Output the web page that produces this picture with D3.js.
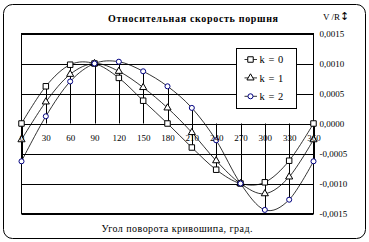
<!DOCTYPE html>
<html>
<head>
<meta charset="utf-8">
<script src="https://cdn.jsdelivr.net/npm/d3@7"></script>
<style>
  body { margin: 0; background: #fff; }
  svg { display: block; font-family: "Liberation Serif", "Times New Roman", serif; }
</style>
</head>
<body>
<svg id="chart"></svg>
<script>
// crank angle, degrees
const angles = [0, 30, 60, 90, 120, 150, 180, 210, 240, 270, 300, 330, 360];
const seriesNames = ['k = 0', 'k = 1', 'k = 2'];
const k0 = [0, 0.00062, 0.00098, 0.001, 0.00076, 0.00038, 0, -0.0004, -0.00077, -0.001, -0.00098, -0.00062, 0];
const k1 = [-0.00027, 0.00036, 0.00082, 0.001, 0.00087, 0.0006, 0.00026, -0.00015, -0.00062, -0.001, -0.00117, -0.00089, -0.00027];
const k2 = [-0.00063, 0.00012, 0.0007, 0.001, 0.00103, 0.00087, 0.00062, 0.00026, -0.00028, -0.001, -0.00144, -0.00127, -0.00063];
const yTicks = [-0.0015, -0.001, -0.0005, 0, 0.0005, 0.001, 0.0015];

const width = 369, height = 242;
const svg = d3.select('#chart').attr('width', width).attr('height', height);

const x = d3.scaleLinear().domain([0, 360]).range([21.5, 313.5]);
const y = d3.scaleLinear().domain([-0.0015, 0.0015]).range([213.5, 33.5]);

// outer frame
svg.append('rect')
  .attr('x', 3.5).attr('y', 4.5).attr('width', 362).attr('height', 234)
  .attr('rx', 9).attr('fill', '#fff').attr('stroke', '#000');

// horizontal gridlines
svg.append('g')
  .selectAll('line')
  .data(yTicks)
  .join('line')
  .attr('x1', x(0)).attr('x2', x(360))
  .attr('y1', d => Math.round(y(d)) + 0.5).attr('y2', d => Math.round(y(d)) + 0.5)
  .attr('stroke', '#000');

// plot border
svg.append('rect')
  .attr('x', x(0)).attr('y', y(0.0015))
  .attr('width', x(360) - x(0)).attr('height', y(-0.0015) - y(0.0015))
  .attr('fill', 'none').attr('stroke', '#000');

// drop lines
const series = [k0, k1, k2];
svg.append('g')
  .selectAll('line')
  .data(angles.map((a, i) => ({
    a,
    lo: Math.min(0, ...series.map(s => s[i])),
    hi: Math.max(0, ...series.map(s => s[i]))
  })))
  .join('line')
  .attr('x1', d => Math.round(x(d.a)) + 0.5).attr('x2', d => Math.round(x(d.a)) + 0.5)
  .attr('y1', d => y(d.lo)).attr('y2', d => y(d.hi))
  .attr('stroke', '#000');

// right value axis
const yAxis = svg.append('g')
  .attr('transform', `translate(${x(360)},0)`)
  .call(d3.axisRight(y).tickValues(yTicks).tickSize(0).tickPadding(6)
    .tickFormat(d => d3.format('.4f')(d).replace('−', '-').replace('.', ',')));
yAxis.select('.domain').remove();
yAxis.selectAll('text').attr('font-size', 9).attr('font-family', 'Liberation Serif').attr('fill', '#000');

// series lines
const line = d3.line()
  .x((d, i) => x(angles[i]))
  .y(d => y(d))
  .curve(d3.curveCardinal.tension(0));

svg.append('g')
  .selectAll('path')
  .data(series)
  .join('path')
  .attr('d', line)
  .attr('fill', 'none')
  .attr('stroke', '#000')
  .attr('stroke-width', 0.8);

const markers = [
  { type: d3.symbolSquare, size: 30, stroke: '#000' },
  { type: d3.symbolTriangle, size: 22, stroke: '#000' },
  { type: d3.symbolCircle, size: 20, stroke: '#000080' }
];

series.forEach((s, si) => {
  svg.append('g')
    .selectAll('path')
    .data(s)
    .join('path')
    .attr('transform', (d, i) => `translate(${x(angles[i])},${y(d)})`)
    .attr('d', d3.symbol().type(markers[si].type).size(markers[si].size))
    .attr('fill', '#fff')
    .attr('stroke', markers[si].stroke);
});

// category labels next to zero line, drawn over the markers
const xAxis = svg.append('g')
  .attr('transform', `translate(0,${y(0)})`)
  .call(d3.axisBottom(x).tickValues(angles).tickSize(0).tickPadding(11).tickFormat(d3.format('d')));
xAxis.select('.domain').remove();
xAxis.selectAll('text').attr('font-size', 9).attr('font-family', 'Liberation Serif').attr('fill', '#000');

// legend
const legend = svg.append('g').attr('transform', 'translate(236.5,48.5)');
legend.append('rect')
  .attr('width', 60).attr('height', 60)
  .attr('fill', '#fff').attr('stroke', '#000');

const item = legend.selectAll('g')
  .data(seriesNames)
  .join('g')
  .attr('transform', (d, i) => `translate(0,${11 + i * 18.4})`);

item.append('line')
  .attr('x1', 8).attr('x2', 20.5)
  .attr('stroke', '#000').attr('stroke-width', 0.8);

item.append('path')
  .attr('transform', 'translate(14,0)')
  .attr('d', (d, i) => d3.symbol().type(markers[i].type).size(markers[i].size)())
  .attr('fill', '#fff')
  .attr('stroke', (d, i) => markers[i].stroke);

item.append('text')
  .attr('x', 23).attr('dy', '0.35em')
  .attr('font-size', 10.5)
  .attr('word-spacing', 1)
  .text(d => d);

// titles
svg.append('text')
  .attr('x', 193).attr('y', 22)
  .attr('text-anchor', 'middle')
  .attr('font-size', 10).attr('font-weight', 'bold')
  .attr('textLength', 170)
  .text('Относительная скорость поршня');

svg.append('text')
  .attr('x', 323).attr('y', 20)
  .attr('font-size', 9)
  .text('V /R');

svg.append('text')
  .attr('x', 340).attr('y', 20)
  .attr('font-size', 11)
  .attr('font-family', 'DejaVu Sans')
  .text('↕');

svg.append('text')
  .attr('x', 177).attr('y', 232)
  .attr('text-anchor', 'middle')
  .attr('font-size', 10)
  .attr('textLength', 151)
  .text('Угол поворота кривошипа, град.');
</script>
</body>
</html>
